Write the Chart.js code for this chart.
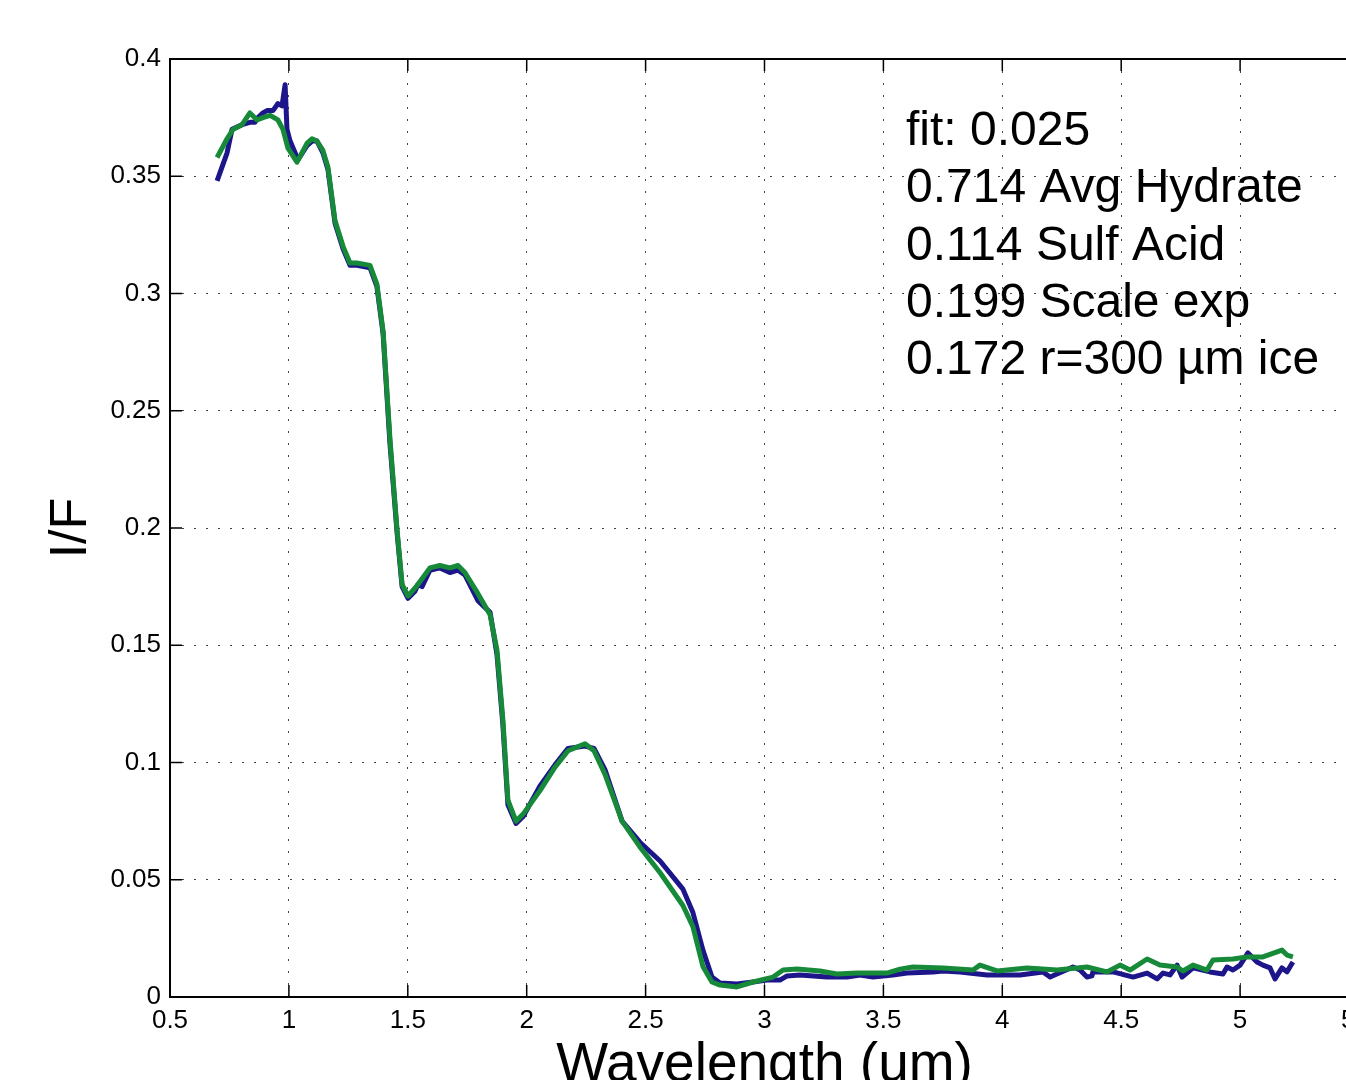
<!DOCTYPE html>
<html>
<head>
<meta charset="utf-8">
<script src="https://cdn.jsdelivr.net/npm/chart.js@4.4.1/dist/chart.umd.min.js"></script>
<style>
  html, body { margin: 0; padding: 0; background: #fff; overflow: hidden; }
  #wrap { position: absolute; left: 0; top: 0; width: 1400px; height: 1120px; }
</style>
</head>
<body>
<div id="wrap"><canvas id="spectrum" width="1400" height="1120"></canvas></div>
<script>
// Observed spectrum (blue)
const obsWavelength = [
  0.698, 0.740, 0.761, 0.803, 0.836, 0.857, 0.870, 0.891, 0.908, 0.933, 0.954, 0.971, 0.984, 0.992,
  1.005, 1.026, 1.038, 1.076, 1.097, 1.118, 1.143, 1.164, 1.194, 1.228, 1.257, 1.286, 1.341, 1.370,
  1.396, 1.425, 1.455, 1.476, 1.501, 1.530, 1.543, 1.560, 1.593, 1.635, 1.677, 1.711, 1.740, 1.795,
  1.846, 1.875, 1.900, 1.921, 1.955, 1.985, 2.056, 2.119, 2.174, 2.245, 2.283, 2.329, 2.401, 2.476,
  2.561, 2.657, 2.699, 2.741, 2.779, 2.813, 2.884, 2.952, 3.011, 3.065, 3.095, 3.149, 3.263, 3.347,
  3.402, 3.456, 3.540, 3.599, 3.709, 3.751, 3.822, 3.936, 4.074, 4.171, 4.201, 4.297, 4.327, 4.356,
  4.377, 4.381, 4.466, 4.550, 4.609, 4.651, 4.676, 4.705, 4.735, 4.756, 4.802, 4.873, 4.928, 4.945,
  4.970, 5.000, 5.033, 5.071, 5.096, 5.126, 5.147, 5.176, 5.197, 5.222
];
const obsIF = [
  0.348, 0.360, 0.370, 0.372, 0.373, 0.373, 0.375, 0.377, 0.378, 0.378, 0.381, 0.380, 0.389, 0.370,
  0.365, 0.360, 0.357, 0.363, 0.365, 0.365, 0.360, 0.353, 0.330, 0.319, 0.312, 0.312, 0.311, 0.303,
  0.283, 0.236, 0.198, 0.175, 0.170, 0.173, 0.176, 0.175, 0.182, 0.183, 0.181, 0.182, 0.180, 0.169,
  0.164, 0.146, 0.116, 0.082, 0.074, 0.077, 0.090, 0.099, 0.106, 0.107, 0.106, 0.097, 0.075, 0.066,
  0.058, 0.046, 0.036, 0.020, 0.0085, 0.0060, 0.0055, 0.0064, 0.0072, 0.0072, 0.0090, 0.0094, 0.0085, 0.0085,
  0.0094, 0.0085, 0.0094, 0.0102, 0.0107, 0.0111, 0.0107, 0.0094, 0.0094, 0.0107, 0.0085, 0.0128, 0.0115, 0.0085,
  0.0090, 0.0107, 0.0107, 0.0085, 0.0102, 0.0077, 0.0102, 0.0094, 0.0136, 0.0085, 0.0124, 0.0107, 0.0098, 0.0128,
  0.0115, 0.0136, 0.0188, 0.0149, 0.0136, 0.0124, 0.0077, 0.0124, 0.0107, 0.0149
];

// Model fit (green)
const fitWavelength = [
  0.698, 0.740, 0.765, 0.803, 0.836, 0.866, 0.891, 0.921, 0.954, 0.975, 0.996, 1.034, 1.076, 1.097,
  1.118, 1.143, 1.164, 1.194, 1.228, 1.257, 1.286, 1.341, 1.370, 1.396, 1.425, 1.455, 1.476, 1.501,
  1.543, 1.593, 1.635, 1.677, 1.711, 1.740, 1.795, 1.846, 1.875, 1.900, 1.921, 1.955, 1.985, 2.056,
  2.119, 2.174, 2.245, 2.283, 2.329, 2.401, 2.476, 2.561, 2.657, 2.699, 2.741, 2.779, 2.813, 2.884,
  2.952, 3.036, 3.078, 3.137, 3.233, 3.305, 3.389, 3.515, 3.570, 3.624, 3.751, 3.877, 3.906, 3.978,
  4.104, 4.230, 4.356, 4.440, 4.495, 4.537, 4.609, 4.663, 4.735, 4.760, 4.802, 4.861, 4.886, 4.970,
  5.029, 5.096, 5.176, 5.197, 5.222
];
const fitIF = [
  0.358, 0.366, 0.370, 0.372, 0.377, 0.374, 0.375, 0.376, 0.374, 0.370, 0.362, 0.356, 0.364, 0.366,
  0.365, 0.361, 0.354, 0.331, 0.320, 0.313, 0.313, 0.312, 0.304, 0.284, 0.238, 0.199, 0.176, 0.171,
  0.176, 0.183, 0.184, 0.183, 0.184, 0.181, 0.172, 0.163, 0.148, 0.118, 0.084, 0.075, 0.078, 0.088,
  0.098, 0.105, 0.108, 0.105, 0.095, 0.075, 0.064, 0.053, 0.039, 0.030, 0.013, 0.0064, 0.0051, 0.0043,
  0.0064, 0.0085, 0.0115, 0.0119, 0.0111, 0.0098, 0.0102, 0.0102, 0.0119, 0.0128, 0.0124, 0.0115, 0.0136, 0.0111,
  0.0124, 0.0115, 0.0128, 0.0107, 0.0136, 0.0115, 0.0162, 0.0136, 0.0128, 0.0111, 0.0136, 0.0115, 0.0158, 0.0162,
  0.0171, 0.0171, 0.0200, 0.0179, 0.0171
];

const xTicks = [0.5, 1, 1.5, 2, 2.5, 3, 3.5, 4, 4.5, 5, 5.5];
const yTicks = [0, 0.05, 0.1, 0.15, 0.2, 0.25, 0.3, 0.35, 0.4];

const fitNotes = [
  'fit: 0.025',
  '0.714 Avg Hydrate',
  '0.114 Sulf Acid',
  '0.199 Scale exp',
  '0.172 r=300 \u00b5m ice'
];

const FONT = '"Liberation Sans", Arial, Helvetica, sans-serif';

const toPoints = (xs, ys) => xs.map((v, i) => ({ x: v, y: ys[i] }));

// MATLAB style box, inward ticks and text
const matlabFrame = {
  id: 'matlabFrame',
  afterDraw(chart) {
    const { ctx, chartArea: a, scales: { x, y } } = chart;
    ctx.save();
    ctx.strokeStyle = '#000';
    ctx.lineWidth = 1.5;
    ctx.beginPath();
    xTicks.forEach(v => {
      const px = x.getPixelForValue(v);
      ctx.moveTo(px, a.bottom); ctx.lineTo(px, a.bottom - 12);
      ctx.moveTo(px, a.top); ctx.lineTo(px, a.top + 12);
    });
    yTicks.forEach(v => {
      const py = y.getPixelForValue(v);
      ctx.moveTo(a.left, py); ctx.lineTo(a.left + 12, py);
      ctx.moveTo(a.right, py); ctx.lineTo(a.right - 12, py);
    });
    ctx.stroke();
    ctx.lineWidth = 2;
    ctx.strokeRect(a.left, a.top, a.right - a.left, a.bottom - a.top);

    ctx.fillStyle = '#000';
    ctx.textBaseline = 'alphabetic';

    // annotation
    ctx.textAlign = 'left';
    ctx.font = '48px ' + FONT;
    fitNotes.forEach((t, i) => ctx.fillText(t, 906, 145 + i * 57.3));

    // x title
    ctx.textAlign = 'center';
    ctx.font = '55px ' + FONT;
    ctx.fillText('Wavelength (um)', (a.left + a.right) / 2, a.bottom + 84);

    // y title
    ctx.save();
    ctx.translate(86, (a.top + a.bottom) / 2);
    ctx.rotate(-Math.PI / 2);
    ctx.font = '52px ' + FONT;
    ctx.fillText('I/F', 0, 0);
    ctx.restore();

    ctx.restore();
  }
};

new Chart(document.getElementById('spectrum'), {
  type: 'scatter',
  data: {
    datasets: [
      {
        label: 'Model fit',
        data: toPoints(fitWavelength, fitIF),
        showLine: true,
        borderColor: '#178a3a',
        borderWidth: 5,
        pointRadius: 0,
        tension: 0,
        borderJoinStyle: 'round',
        order: 0
      },
      {
        label: 'Observed',
        data: toPoints(obsWavelength, obsIF),
        showLine: true,
        borderColor: '#1d168a',
        borderWidth: 5,
        pointRadius: 0,
        tension: 0,
        borderJoinStyle: 'round',
        order: 1
      }
    ]
  },
  options: {
    responsive: false,
    animation: false,
    layout: { padding: { top: 59, right: 41, left: 0, bottom: 0 } },
    plugins: { legend: { display: false }, tooltip: { enabled: false } },
    scales: {
      x: {
        type: 'linear',
        min: 0.5, max: 5.5,
        afterBuildTicks: s => { s.ticks = xTicks.map(v => ({ value: v })); },
        afterFit: s => { s.height = 123; },
        grid: { color: '#444', lineWidth: 1, drawTicks: false },
        border: { display: false, dash: [2, 10] },
        ticks: {
          autoSkip: false, maxRotation: 0, padding: 8, color: '#000',
          font: { family: FONT, size: 26 },
          callback: v => String(v)
        }
      },
      y: {
        type: 'linear',
        min: 0, max: 0.4,
        afterBuildTicks: s => { s.ticks = yTicks.map(v => ({ value: v })); },
        afterFit: s => { s.width = 170; },
        grid: { color: '#444', lineWidth: 1, drawTicks: false },
        border: { display: false, dash: [2, 10] },
        ticks: {
          autoSkip: false, padding: 9, color: '#000',
          font: { family: FONT, size: 26 },
          callback: v => String(+v.toFixed(2))
        }
      }
    }
  },
  plugins: [matlabFrame]
});
</script>
</body>
</html>
